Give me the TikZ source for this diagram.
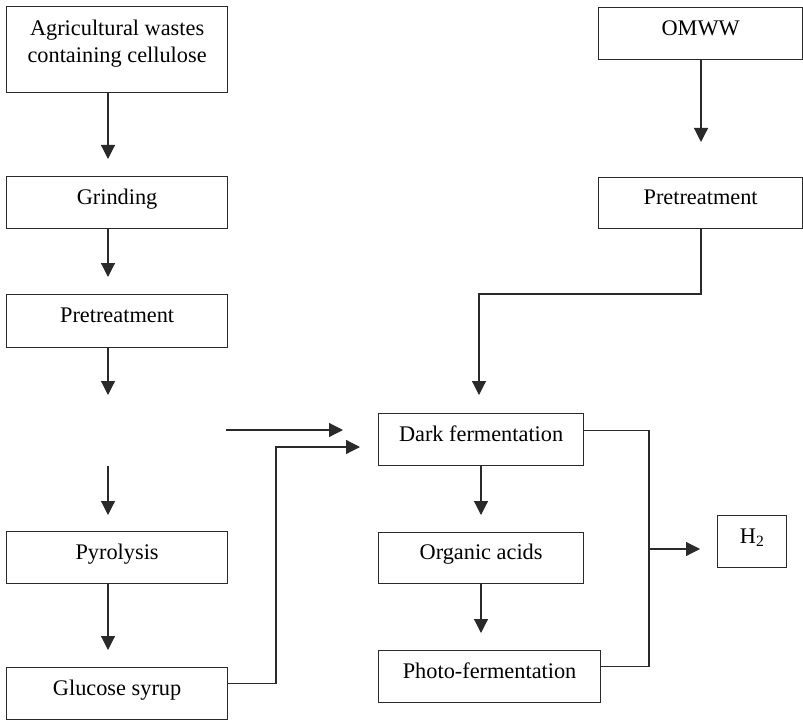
\documentclass[tikz,border=0pt]{standalone}
\usepackage{fontspec}
\setmainfont{Liberation Serif}
\usetikzlibrary{arrows.meta}
\definecolor{ink}{HTML}{2A2A2A}
\begin{document}
\begin{tikzpicture}[x=1bp,y=-1bp,
  stage/.style={draw=ink, line width=1.2bp, rectangle, inner sep=0pt,
    anchor=north west, text height=15bp, text depth=12bp,
    font=\fontsize{22.4}{27}\selectfont},
  link/.style={draw=ink, line width=1.2bp},
  flow/.style={link, -{Triangle[length=14bp,width=14bp]}},
]
\useasboundingbox (0,0) rectangle (803,722);

% column guides
\coordinate (lc) at (108,0);
\coordinate (mc) at (481,0);
\coordinate (rc) at (701,0);

% left column: agricultural wastes route
\node[stage, minimum width=221bp, minimum height=86bp, align=center,
      text height=42bp, text depth=16bp] (agri) at (6,6) {Agricultural wastes\\containing cellulose};
\node[stage, minimum width=221bp, minimum height=52bp] (grind) at (6,176) {Grinding};
\node[stage, minimum width=221bp, minimum height=53bp] (pretL) at (6,294) {Pretreatment};
\node[stage, minimum width=221bp, minimum height=52bp] (pyro) at (6,531) {Pyrolysis};
\node[stage, minimum width=221bp, minimum height=52bp] (gluc) at (6,667) {Glucose syrup};

% right column: OMWW route
\node[stage, minimum width=204bp, minimum height=52bp] (omww) at (598,7) {OMWW};
\node[stage, minimum width=204bp, minimum height=51bp] (pretR) at (598,177) {Pretreatment};

% fermentation stages
\node[stage, minimum width=205bp, minimum height=52bp] (dark) at (378,413) {Dark fermentation};
\node[stage, minimum width=205bp, minimum height=51bp] (org) at (378,532) {Organic acids};
\node[stage, minimum width=222bp, minimum height=52bp] (photo) at (378,650) {Photo-fermentation};
\node[stage, minimum width=69bp, minimum height=52bp] (h2) at (717,515) {H\textsubscript{2}};

% free ends and bends
\coordinate (gapTop) at (108,395);
\coordinate (gapBot) at (108,466);
\coordinate (gapOut) at (226,430);
\coordinate (bendL) at (276,447);
\coordinate (bendR) at (479,294);
\coordinate (bus) at (649,549);

% left column arrows
\draw[flow, shorten >=17bp] (agri.south -| lc) -- (grind.north -| lc);
\draw[flow, shorten >=17bp] (grind.south -| lc) -- (pretL.north -| lc);
\draw[flow] (pretL.south -| lc) -- (gapTop);
\draw[flow, shorten >=16bp] (gapBot) -- (pyro.north -| lc);
\draw[flow, shorten >=17bp] (pyro.south -| lc) -- (gluc.north -| lc);

% feeds into dark fermentation
\draw[flow, shorten >=35bp] (gapOut) -- (dark.west |- gapOut);
\draw[flow, shorten >=18bp] ([yshift=10bp]gluc.east) -| (bendL) -- (dark.west |- bendL);

% right column arrows
\draw[flow, shorten >=35bp] (omww.south -| rc) -- (pretR.north -| rc);
\draw[flow, shorten >=18bp] (pretR.south -| rc) |- (bendR) -- (dark.north -| bendR);

% fermentation chain
\draw[flow, shorten >=17bp] (dark.south -| mc) -- (org.north -| mc);
\draw[flow, shorten >=17bp] (org.south -| mc) -- (photo.north -| mc);

% hydrogen collection
\draw[link] ([yshift=9bp]dark.east) -| (bus) |- ([yshift=10bp]photo.east);
\draw[flow, shorten >=17bp] (bus) -- (h2.west |- bus);
\end{tikzpicture}
\end{document}
